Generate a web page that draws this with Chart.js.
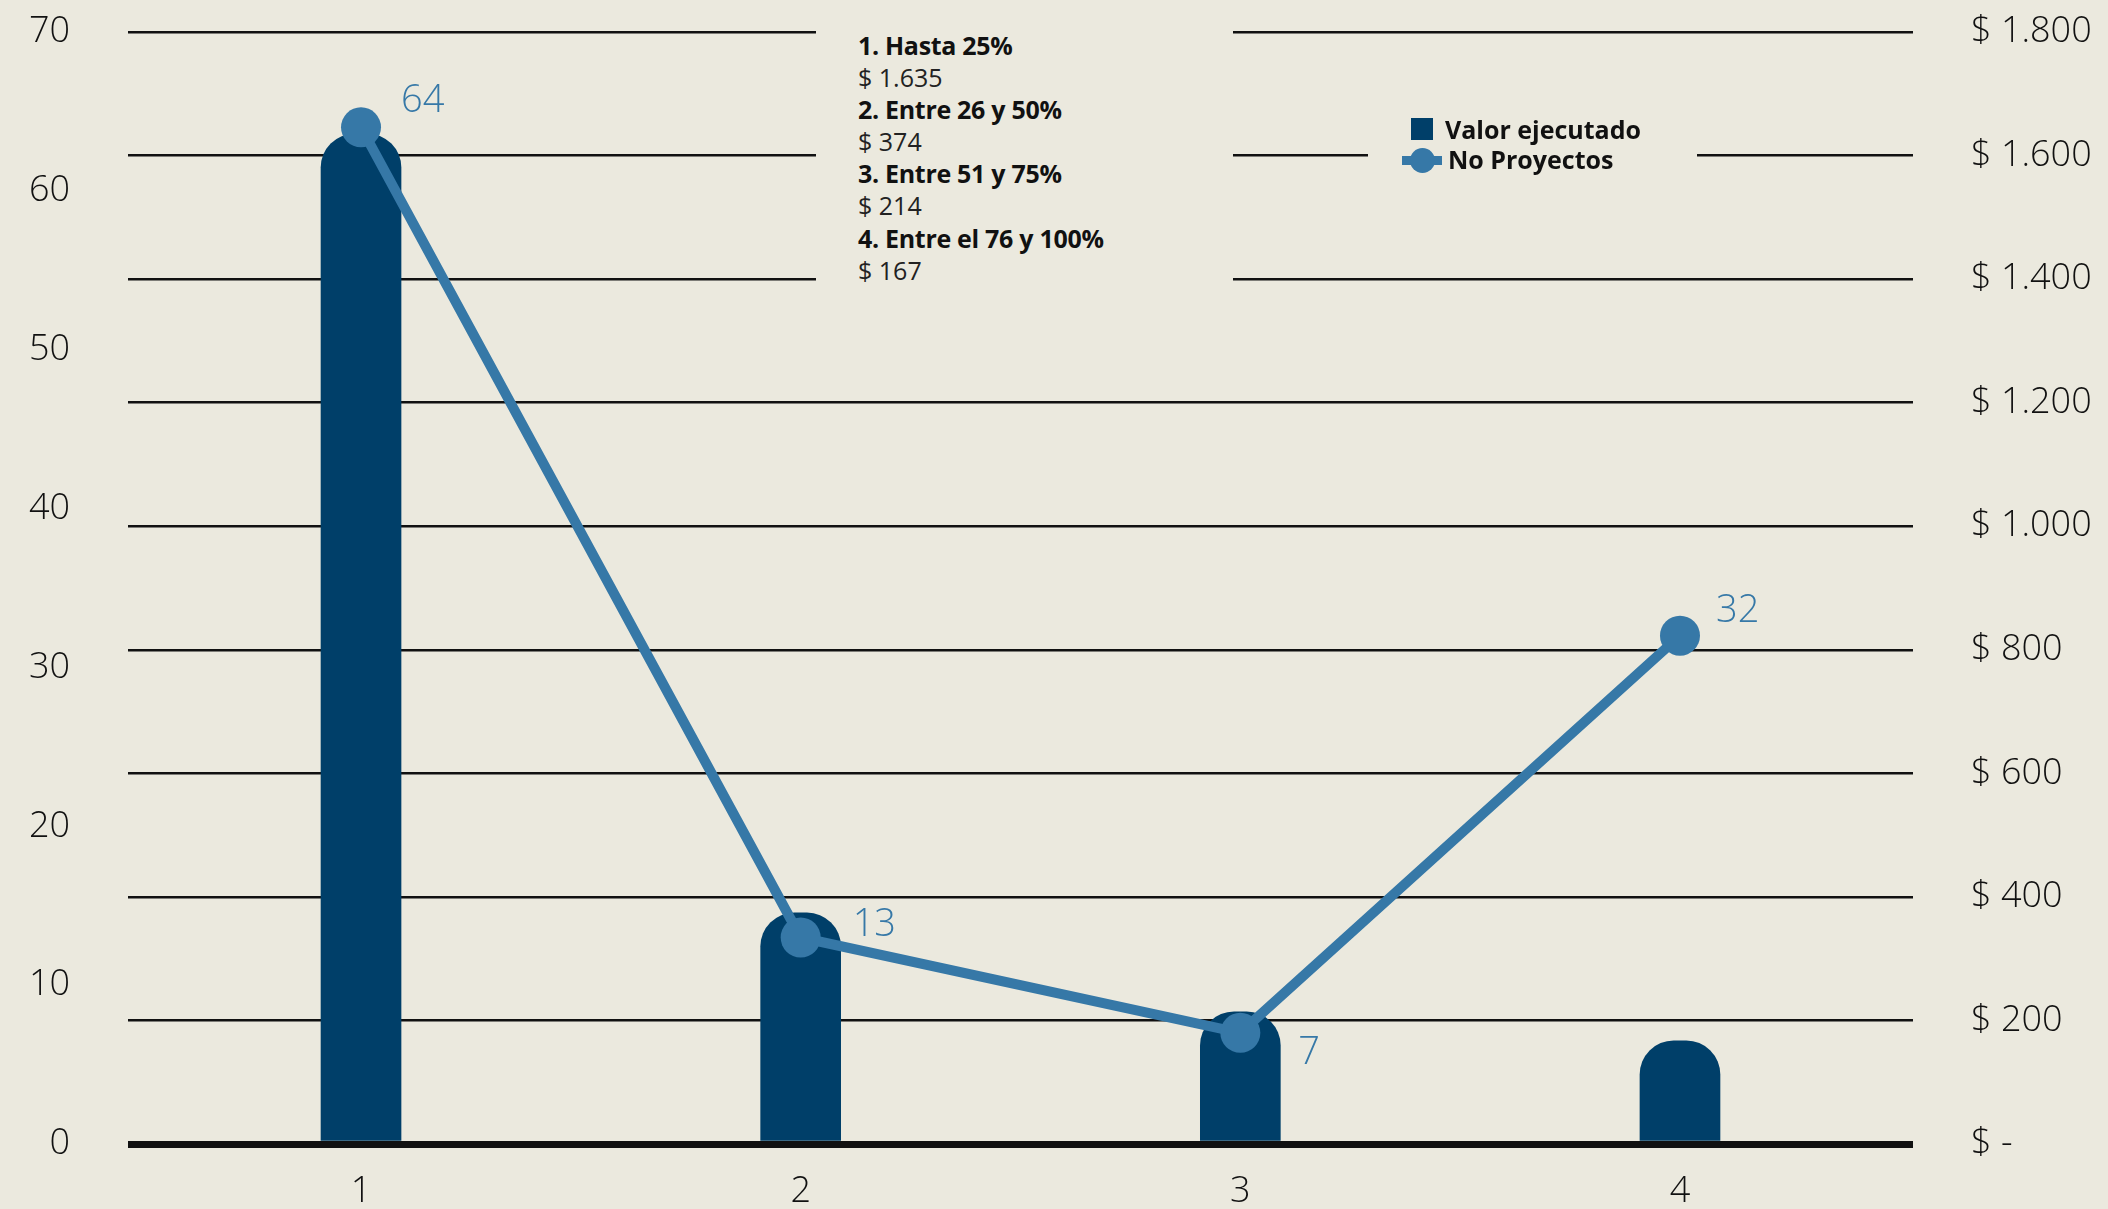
<!DOCTYPE html>
<html>
<head>
<meta charset="utf-8">
<script src="https://cdn.jsdelivr.net/npm/chart.js@4.4.1/dist/chart.umd.min.js"></script>
<style>
  body { margin: 0; background: #ebe9de; }
  #wrap { position: relative; width: 2108px; height: 1209px; }
  #nota {
    position: absolute; left: 816px; top: 0; width: 417px; height: 300px;
    background: #ebe9de; font-family: "Open Sans", sans-serif; font-size: 25px;
    color: #111; box-sizing: border-box; padding: 29px 0 0 42px; line-height: 32.1px;
  }
  #nota b { font-weight: 700; letter-spacing: -0.3px; }
  #nota span { font-weight: 400; color: #222; }
  #leyenda {
    position: absolute; left: 1368px; top: 114px; width: 329px; height: 67px;
    background: #ebe9de; font-family: "Open Sans", sans-serif; font-size: 25px;
    font-weight: 700; color: #111;
  }
  .item { position: absolute; left: 0; height: 30px; line-height: 30px; white-space: nowrap; }
  .cuadro { position: absolute; left: 43px; top: 4px; width: 22px; height: 22px; background: #003f69; }
  .linea { position: absolute; left: 34px; top: 12px; width: 40px; height: 9px; background: #3678a7; }
  .punto { position: absolute; left: 42px; top: 4px; width: 25px; height: 25px; border-radius: 50%; background: #3678a7; }
</style>
</head>
<body>
<div id="wrap">
  <canvas id="chart" width="2108" height="1209"></canvas>
  <div id="nota"></div>
  <div id="leyenda">
    <div class="item" style="top:0px"><div class="cuadro"></div><span style="position:absolute;left:77px">Valor ejecutado</span></div>
    <div class="item" style="top:30px"><div class="linea"></div><div class="punto"></div><span style="position:absolute;left:80px">No Proyectos</span></div>
  </div>
</div>
<script>
const categorias = ["1", "2", "3", "4"];
const rangos = ["Hasta 25%", "Entre 26 y 50%", "Entre 51 y 75%", "Entre el 76 y 100%"];
const valorEjecutado = [1635, 374, 214, 167];
const noProyectos = [64, 13, 7, 32];
const ticksIzq = [0, 70, 10];
const ticksDer = [0, 1800, 200];

// desplazamiento de las etiquetas de la línea
const offsets = [[40, -26], [52, -12], [58, 20], [36, -24]];

function miles(v) {
  return String(v).replace(/\B(?=(\d{3})+(?!\d))/g, ".");
}

// nota con los rangos y valores
let html = "";
for (let i = 0; i < rangos.length; i++) {
  html += `<b>${categorias[i]}. ${rangos[i]}</b><br><span>$ ${miles(valorEjecutado[i])}</span><br>`;
}
document.getElementById("nota").innerHTML = html;

const etiquetas = {
  id: "etiquetas",
  afterDatasetsDraw(chart) {
    const ctx = chart.ctx;
    const meta = chart.getDatasetMeta(1);
    ctx.save();
    ctx.font = "300 38px 'Open Sans'";
    ctx.fillStyle = "#3678a7";
    ctx.textAlign = "left";
    ctx.textBaseline = "middle";
    meta.data.forEach((p, i) => {
      ctx.fillText(String(noProyectos[i]), p.x + offsets[i][0], p.y + offsets[i][1]);
    });
    ctx.restore();
  }
};

const fuenteEje = { family: "'Open Sans'", size: 36, weight: 300 };

function sinPadding(s) {
  s.paddingTop = 0; s.paddingBottom = 0;
  s.paddingLeft = 0; s.paddingRight = 0;
}

let ctx = document.getElementById("chart").getContext("2d");
let myChart = new Chart(ctx, {
  data: {
    labels: categorias,
    datasets: [{
      type: "bar",
      label: "Valor ejecutado",
      data: valorEjecutado,
      yAxisID: "y1",
      backgroundColor: "#003f69",
      barThickness: 80,
      borderRadius: { topLeft: 34, topRight: 34 },
      borderSkipped: "bottom",
      order: 2
    }, {
      type: "line",
      label: "No Proyectos",
      data: noProyectos,
      yAxisID: "y",
      borderColor: "#3678a7",
      backgroundColor: "#3678a7",
      borderWidth: 10,
      pointRadius: 20,
      pointBorderWidth: 0,
      pointBackgroundColor: "#3678a7",
      tension: 0,
      order: 1
    }]
  },
  options: {
    responsive: false,
    animation: false,
    layout: { padding: { top: 32, left: 0, right: 0, bottom: 0 } },
    plugins: { legend: { display: false }, tooltip: { enabled: false } },
    scales: {
      x: {
        grid: { display: false, drawTicks: false },
        border: { display: false },
        ticks: { color: "#111", font: fuenteEje, padding: 26 },
        // las categorías quedan un poco más juntas que el reparto por defecto
        afterBuildTicks: (s) => { s._startValue = -0.53; s._valueRange = 4.06; },
        afterFit: (s) => { s.height = 65; sinPadding(s); }
      },
      y: {
        position: "left",
        min: ticksIzq[0], max: ticksIzq[1],
        grid: { display: false, drawTicks: false },
        border: { display: false },
        ticks: { stepSize: ticksIzq[2], color: "#111", font: fuenteEje, padding: 58 },
        afterFit: (s) => { s.width = 128; sinPadding(s); }
      },
      y1: {
        position: "right",
        min: ticksDer[0], max: ticksDer[1],
        grid: {
          drawTicks: false,
          color: "#111",
          lineWidth: (c) => c.tick && c.tick.value === 0 ? 7 : 2.5
        },
        border: { display: false },
        ticks: {
          stepSize: ticksDer[2], color: "#111", font: fuenteEje, padding: 58,
          callback: (v) => v === 0 ? "$ -" : "$ " + miles(v)
        },
        afterFit: (s) => { s.width = 195; sinPadding(s); }
      }
    }
  },
  plugins: [etiquetas]
});
</script>
</body>
</html>
